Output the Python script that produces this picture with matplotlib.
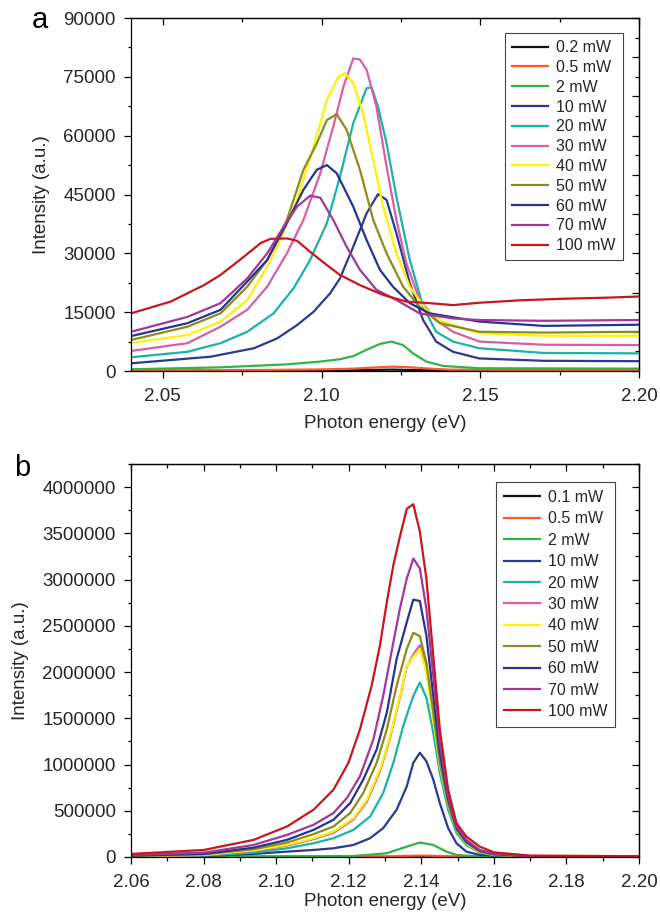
import numpy as np
import matplotlib
matplotlib.use("Agg")
import matplotlib.pyplot as plt
from matplotlib.ticker import MultipleLocator, FuncFormatter

plt.rcParams['font.family'] = ['Liberation Sans', 'DejaVu Sans']

FONT_SIZE = 13.5
LEGEND_FONT_SIZE = 11.5
TEXT_COLOR = "#262626"
LW = 1.6

LABELS_A = ['0.2 mW', '0.5 mW', '2 mW', '10 mW', '20 mW', '30 mW', '40 mW',
            '50 mW', '60 mW', '70 mW', '100 mW']
LABELS_B = ['0.1 mW', '0.5 mW', '2 mW', '10 mW', '20 mW', '30 mW', '40 mW',
            '50 mW', '60 mW', '70 mW', '100 mW']
COLORS = ['#111111', '#ff5a2a', '#2fb34a', '#2b3990', '#19b3a8', '#d65fa8',
          '#fff200', '#8c8c1c', '#26348f', '#a3359b', '#c8161d']

# ---- panel a : photon energy (eV) / intensity (a.u.)
E_A_02 = [2.04, 2.10, 2.115, 2.122, 2.13, 2.14, 2.20]
I_A_02 = [50, 120, 250, 350, 250, 100, 50]
E_A_05 = [2.04, 2.08, 2.10, 2.11, 2.117, 2.122, 2.127, 2.133, 2.14, 2.16, 2.20]
I_A_05 = [150, 250, 400, 600, 900, 1100, 1000, 650, 350, 250, 200]
E_A_2 = [2.04, 2.0682, 2.0891, 2.0996, 2.1058, 2.11, 2.1142, 2.1184, 2.122,
         2.1257, 2.1288, 2.133, 2.1382, 2.1497, 2.20]
I_A_2 = [430, 940, 1700, 2400, 3000, 3800, 5400, 6900, 7500, 6600, 4500, 2400,
         1300, 700, 600]
E_A_10 = [2.04, 2.0651, 2.0787, 2.086, 2.0923, 2.0975, 2.1027, 2.1058, 2.11,
          2.1142, 2.1178, 2.1205, 2.1236, 2.1278, 2.132, 2.1361, 2.1414, 2.1497,
          2.17, 2.20]
I_A_10 = [1950, 3650, 5800, 8300, 11700, 15100, 19800, 23600, 31700, 40200,
          45100, 43600, 35100, 22400, 13000, 7500, 4900, 3200, 2600, 2500]
E_A_20 = [2.04, 2.0578, 2.0682, 2.0766, 2.0849, 2.0912, 2.0964, 2.1017, 2.1058,
          2.11, 2.1142, 2.1158, 2.1178, 2.1205, 2.1236, 2.1278, 2.132, 2.1361,
          2.1414, 2.1497, 2.17, 2.20]
I_A_20 = [3500, 4900, 7100, 10000, 14700, 21100, 28300, 37700, 49500, 63200,
          72100, 72300, 67400, 58000, 44400, 28300, 16400, 10000, 7500, 5800,
          4600, 4500]
E_A_30 = [2.04, 2.0578, 2.0682, 2.0766, 2.0829, 2.0891, 2.0943, 2.0996, 2.1037,
          2.1069, 2.11, 2.1121, 2.1142, 2.1173, 2.1205, 2.1236, 2.1267, 2.1309,
          2.1361, 2.1414, 2.1497, 2.17, 2.20]
I_A_30 = [5100, 7100, 11300, 15600, 21500, 30000, 38500, 50400, 62300, 72500,
          79700, 79400, 76800, 67400, 52100, 38500, 27500, 18100, 13000, 10000,
          7500, 6700, 6600]
E_A_40 = [2.04, 2.0578, 2.0682, 2.0766, 2.0829, 2.087, 2.0923, 2.0975, 2.1017,
          2.1053, 2.1074, 2.11, 2.1131, 2.1163, 2.1194, 2.1236, 2.1278, 2.133,
          2.1382, 2.1497, 2.17, 2.20]
I_A_40 = [7100, 9200, 12600, 18100, 26600, 33400, 43600, 57200, 69100, 75000,
          75900, 73400, 65700, 53800, 41900, 30000, 21500, 15600, 12600, 9600,
          9000, 9000]
E_A_50 = [2.04, 2.0578, 2.0682, 2.0766, 2.0829, 2.0891, 2.0943, 2.0985, 2.1017,
          2.1048, 2.1079, 2.1121, 2.1163, 2.1205, 2.1257, 2.1309, 2.1372, 2.1497,
          2.17, 2.20]
I_A_50 = [7900, 11300, 14700, 21500, 28300, 38500, 51300, 58000, 64000, 65500,
          61500, 51300, 38500, 30000, 21500, 16400, 12200, 10000, 9800, 10000]
E_A_60 = [2.04, 2.0578, 2.0682, 2.0766, 2.0829, 2.0891, 2.0943, 2.0985, 2.1017,
          2.1048, 2.11, 2.1142, 2.1184, 2.1225, 2.1278, 2.134, 2.1497, 2.17, 2.20]
I_A_60 = [8900, 12200, 15600, 22800, 28300, 37700, 46200, 51300, 52500, 50400,
          41900, 33400, 25800, 21500, 17300, 14700, 12600, 11500, 11800]
E_A_70 = [2.04, 2.0578, 2.0682, 2.0766, 2.0829, 2.0881, 2.0923, 2.0964, 2.0996,
          2.1037, 2.1079, 2.1121, 2.1173, 2.1236, 2.1309, 2.1414, 2.1497, 2.17,
          2.20]
I_A_70 = [10000, 13800, 17300, 23600, 30000, 36800, 41900, 44700, 44200, 38500,
          31700, 25800, 20700, 18100, 14700, 13400, 13000, 12800, 13000]
E_A_100 = [2.04, 2.0525, 2.063, 2.0682, 2.0755, 2.0808, 2.0839, 2.0891, 2.0923,
           2.0964, 2.1017, 2.1058, 2.1121, 2.1194, 2.1267, 2.134, 2.1414, 2.1497,
           2.162, 2.175, 2.19, 2.20]
I_A_100 = [14700, 17700, 21900, 24500, 29100, 32600, 33700, 33800, 33200, 30400,
           27000, 24500, 21900, 19400, 17700, 17300, 16800, 17400, 18000, 18400,
           18700, 19000]

# ---- panel b
E_B_01 = [2.06, 2.13, 2.14, 2.15, 2.20]
I_B_01 = [200, 1000, 3000, 800, 200]
E_B_05 = [2.06, 2.12, 2.13, 2.136, 2.14, 2.145, 2.15, 2.16, 2.20]
I_B_05 = [500, 2000, 6000, 12000, 15000, 11000, 4000, 1000, 500]
E_B_2 = [2.06, 2.1213, 2.1305, 2.136, 2.1396, 2.1433, 2.1469, 2.1497, 2.1561,
         2.17, 2.20]
I_B_2 = [1500, 10000, 40000, 112000, 156000, 130000, 58000, 22000, 5000, 1500,
         1000]
E_B_10 = [2.06, 2.0801, 2.0938, 2.103, 2.1103, 2.1158, 2.1213, 2.1259, 2.1295,
          2.1332, 2.136, 2.1378, 2.1396, 2.1414, 2.1433, 2.1451, 2.1474, 2.1497,
          2.1524, 2.1561, 2.17, 2.20]
I_B_10 = [5000, 10000, 33000, 58000, 76000, 94000, 130000, 203000, 312000,
          511000, 764000, 1018000, 1127000, 1036000, 837000, 583000, 312000,
          148000, 58000, 22000, 4000, 1000]
E_B_20 = [2.06, 2.0801, 2.0938, 2.103, 2.1103, 2.1158, 2.1213, 2.1259, 2.1295,
          2.1323, 2.135, 2.1378, 2.1396, 2.1414, 2.1433, 2.1451, 2.1474, 2.1497,
          2.1524, 2.1561, 2.16, 2.17, 2.20]
I_B_20 = [8000, 15000, 47000, 94000, 148000, 203000, 293000, 438000, 692000,
          1018000, 1416000, 1742000, 1887000, 1724000, 1344000, 909000, 511000,
          257000, 130000, 47000, 20000, 6000, 2000]
E_B_30 = [2.06, 2.0801, 2.0938, 2.103, 2.1103, 2.1158, 2.1213, 2.125, 2.1286,
          2.1314, 2.1341, 2.136, 2.1378, 2.1396, 2.1414, 2.1433, 2.1451, 2.1474,
          2.1497, 2.1524, 2.1561, 2.16, 2.17, 2.20]
I_B_30 = [8000, 20000, 66000, 122000, 193000, 262000, 405000, 600000, 925000,
          1290000, 1725000, 2060000, 2190000, 2290000, 2040000, 1530000, 1010000,
          585000, 298000, 154000, 57000, 25000, 7000, 3000]
E_B_40 = E_B_30
I_B_40 = [9000, 22000, 71000, 130000, 203000, 275000, 420000, 620000, 946000,
          1308000, 1742000, 2068000, 2166000, 2250000, 1997000, 1489000, 982000,
          565000, 286000, 148000, 54000, 24000, 7000, 3000]
E_B_50 = [2.06, 2.0801, 2.0938, 2.103, 2.1103, 2.1158, 2.1204, 2.124, 2.1277,
          2.1305, 2.1332, 2.136, 2.1378, 2.1396, 2.1414, 2.1433, 2.1451, 2.1474,
          2.1497, 2.1524, 2.1561, 2.16, 2.17, 2.20]
I_B_50 = [11000, 29000, 84000, 156000, 247000, 330000, 475000, 692000, 1018000,
          1380000, 1851000, 2250000, 2424000, 2388000, 2105000, 1562000, 1018000,
          583000, 293000, 156000, 58000, 25000, 7000, 3000]
E_B_60 = E_B_50
I_B_60 = [15000, 33000, 101000, 185000, 293000, 402000, 583000, 837000, 1163000,
          1562000, 2141000, 2540000, 2783000, 2768000, 2395000, 1742000, 1127000,
          620000, 312000, 166000, 69000, 30000, 8000, 4000]
E_B_70 = [2.06, 2.0801, 2.0938, 2.103, 2.1103, 2.1158, 2.1195, 2.1231, 2.1268,
          2.1295, 2.1323, 2.1341, 2.136, 2.1378, 2.1396, 2.1414, 2.1433, 2.1451,
          2.1474, 2.1497, 2.1524, 2.1561, 2.16, 2.17, 2.20]
I_B_70 = [22000, 47000, 130000, 239000, 348000, 475000, 638000, 873000, 1272000,
          1742000, 2322000, 2685000, 3011000, 3228000, 3120000, 2685000, 1960000,
          1236000, 656000, 330000, 185000, 76000, 35000, 10000, 5000]
E_B_100 = [2.06, 2.0801, 2.0938, 2.103, 2.1103, 2.1158, 2.1199, 2.1231, 2.1263,
           2.1286, 2.1305, 2.1323, 2.1341, 2.136, 2.1378, 2.1396, 2.1414, 2.1433,
           2.1451, 2.1474, 2.1497, 2.1524, 2.1561, 2.16, 2.17, 2.20]
I_B_100 = [32600, 76000, 185000, 330000, 511000, 728000, 1017000, 1380000,
           1851000, 2286000, 2757000, 3156000, 3464000, 3765000, 3815000,
           3518000, 3011000, 2177000, 1380000, 728000, 366000, 221000, 112000,
           50000, 15000, 8000]

SERIES_A = [(E_A_02, I_A_02), (E_A_05, I_A_05), (E_A_2, I_A_2), (E_A_10, I_A_10),
            (E_A_20, I_A_20), (E_A_30, I_A_30), (E_A_40, I_A_40),
            (E_A_50, I_A_50), (E_A_60, I_A_60), (E_A_70, I_A_70),
            (E_A_100, I_A_100)]
SERIES_B = [(E_B_01, I_B_01), (E_B_05, I_B_05), (E_B_2, I_B_2), (E_B_10, I_B_10),
            (E_B_20, I_B_20), (E_B_30, I_B_30), (E_B_40, I_B_40),
            (E_B_50, I_B_50), (E_B_60, I_B_60), (E_B_70, I_B_70),
            (E_B_100, I_B_100)]


def style_axes(ax, xmaj, xmin, ymaj, ymin, rmaj, rmin):
    ax.xaxis.set_major_locator(MultipleLocator(xmaj))
    ax.xaxis.set_minor_locator(MultipleLocator(xmin))
    ax.yaxis.set_major_locator(MultipleLocator(ymaj))
    ax.yaxis.set_minor_locator(MultipleLocator(ymin))
    ax.xaxis.set_major_formatter(FuncFormatter(lambda v, p: f"{v:.2f}"))
    ax.yaxis.set_major_formatter(FuncFormatter(lambda v, p: f"{int(round(v))}"))
    ax.tick_params(which='both', direction='out', colors='black',
                   labelcolor=TEXT_COLOR, labelsize=FONT_SIZE, width=0.9)
    ax.tick_params(axis='x', which='major', length=5, pad=7)
    ax.tick_params(axis='x', which='minor', length=3)
    ax.tick_params(axis='y', which='major', length=5, pad=6)
    ax.tick_params(axis='y', which='minor', length=2.5)
    for sp in ax.spines.values():
        sp.set_linewidth(0.9)

    top = ax.secondary_xaxis('top')
    top.xaxis.set_major_locator(MultipleLocator(xmaj))
    top.xaxis.set_minor_locator(MultipleLocator(xmin))
    top.tick_params(which='both', direction='in', labeltop=False, width=0.9)
    top.tick_params(which='major', length=5)
    top.tick_params(which='minor', length=3)
    top.spines['top'].set_linewidth(0.9)

    right = ax.secondary_yaxis('right')
    right.yaxis.set_major_locator(MultipleLocator(rmaj))
    right.yaxis.set_minor_locator(MultipleLocator(rmin))
    right.tick_params(which='both', direction='in', labelright=False, width=0.9)
    right.tick_params(which='major', length=5)
    right.tick_params(which='minor', length=3)
    right.spines['right'].set_linewidth(0.9)


fig = plt.figure(figsize=(6.6, 9.19), dpi=100)
ax_a = fig.add_axes([0.1985, 0.5963, 0.7697, 0.3841])
ax_b = fig.add_axes([0.1985, 0.0675, 0.7697, 0.4276])

for (e, i), lab, col in zip(SERIES_A, LABELS_A, COLORS):
    ax_a.plot(e, i, color=col, lw=LW, label=lab)
for (e, i), lab, col in zip(SERIES_B, LABELS_B, COLORS):
    ax_b.plot(e, i, color=col, lw=LW, label=lab)

ax_a.set_xlim(2.04, 2.20)
ax_a.set_ylim(0, 90000)
ax_b.set_xlim(2.06, 2.20)
ax_b.set_ylim(0, 4250000)

style_axes(ax_a, 0.05, 0.025, 15000, 7500, 10000, 5000)
style_axes(ax_b, 0.02, 0.01, 500000, 250000, 500000, 250000)

for ax, ylx, xly in [(ax_a, -0.159, -0.1246), (ax_b, -0.201, -0.0916)]:
    ax.set_xlabel('Photon energy (eV)', fontsize=FONT_SIZE, color=TEXT_COLOR)
    ax.set_ylabel('Intensity (a.u.)', fontsize=FONT_SIZE, color=TEXT_COLOR)
    ax.xaxis.set_label_coords(0.5, xly)
    ax.yaxis.set_label_coords(ylx, 0.5)

leg_a = ax_a.legend(loc='upper right', bbox_to_anchor=(0.9685, 0.9575),
                    borderaxespad=0, fontsize=LEGEND_FONT_SIZE, fancybox=False,
                    framealpha=1, edgecolor='#444444', handlelength=2.25,
                    handletextpad=0.5, labelspacing=0.3, borderpad=0.45)
leg_b = ax_b.legend(loc='upper right', bbox_to_anchor=(0.953, 0.954),
                    borderaxespad=0, fontsize=LEGEND_FONT_SIZE, fancybox=False,
                    framealpha=1, edgecolor='#444444', handlelength=2.25,
                    handletextpad=0.5, labelspacing=0.4, borderpad=0.5)
for leg in (leg_a, leg_b):
    leg.get_frame().set_linewidth(0.8)
    for t in leg.get_texts():
        t.set_color(TEXT_COLOR)

fig.text(0.0606, 0.978, 'a', fontsize=21, ha='center', va='center')
fig.text(0.033, 0.491, 'b', fontsize=21, ha='center', va='center')

fig.savefig('out.png', dpi=100)
